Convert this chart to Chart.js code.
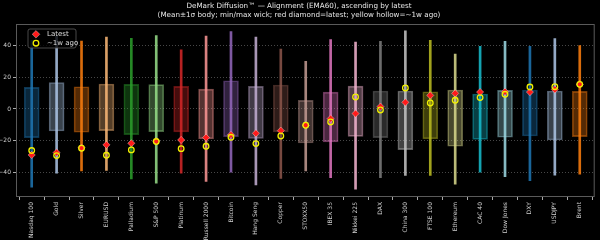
<!DOCTYPE html>
<html>
<head>
<meta charset="utf-8">
<script src="https://cdn.jsdelivr.net/npm/chart.js@4.4.1/dist/chart.umd.min.js"></script>
<style>
  html, body { margin: 0; padding: 0; background: #000; }
  #wrap { width: 600px; height: 240px; }
</style>
</head>
<body>
<div id="wrap"><canvas id="myChart"></canvas></div>
<script>
const categories = ["Nasdaq 100", "Gold", "Silver", "EURUSD", "Palladium", "S&P 500", "Platinum",
  "Russell 2000", "Bitcoin", "Hang Seng", "Copper", "STOXX50", "IBEX 35", "Nikkei 225", "DAX",
  "China 300", "FTSE 100", "Ethereum", "CAC 40", "Dow Jones", "DXY", "USDJPY", "Brent"];

// mean ± 1 sigma body
const bodyHigh = [13.7, 16.8, 14.1, 15.8, 15.6, 15.4, 14.3, 12.6, 17.9, 14.3, 15.2, 5.5,
  10.7, 14.5, 11.4, 11.4, 10.9, 12.0, 9.5, 11.8, 12.0, 11.4, 11.2];
const bodyLow = [-18.1, -13.9, -14.7, -13.7, -16.2, -14.3, -14.5, -18.9, -17.5, -18.7, -14.5, -21.5,
  -20.8, -17.3, -18.1, -25.7, -18.9, -23.6, -19.2, -17.9, -17.1, -19.6, -17.5];
// min / max wick
const wickHigh = [43.5, 46.0, 43.0, 45.5, 44.7, 46.5, 37.5, 46.2, 49.0, 45.5, 38.0, 30.1,
  44.0, 42.3, 42.8, 49.4, 43.4, 34.8, 39.7, 42.8, 39.7, 44.5, 40.2];
const wickLow = [-49.5, -40.6, -39.2, -38.9, -44.2, -46.9, -40.6, -45.9, -40.0, -48.0, -44.0, -39.2,
  -43.4, -50.7, -43.4, -42.1, -42.1, -47.6, -40.0, -42.9, -45.3, -41.9, -41.3];
const latest = [-29.1, -27.6, -24.5, -22.7, -21.7, -20.3, -19.6, -18.1, -16.4, -15.4, -13.7, -10.3,
  -6.1, -2.9, 1.5, 4.2, 8.6, 9.9, 10.7, 10.9, 10.7, 12.4, 15.6];
const weekAgo = [-26.3, -29.5, -24.8, -29.3, -25.9, -20.6, -25.1, -23.6, -17.9, -21.9, -17.1, -10.3,
  -8.2, 7.6, -0.6, 13.3, 3.8, 5.5, 7.2, 9.3, 13.9, 14.1, 15.6];
const yTicks = [-40, -20, 0, 20, 40];

const tab20 = ["#1f77b4", "#aec7e8", "#ff7f0e", "#ffbb78", "#2ca02c", "#98df8a", "#d62728",
  "#ff9896", "#9467bd", "#c5b0d5", "#8c564b", "#c49c94", "#e377c2", "#f7b6d2", "#7f7f7f",
  "#c7c7c7", "#bcbd22", "#dbdb8d", "#17becf", "#9edae5"];

function rgba(hex, a) {
  const n = parseInt(hex.slice(1), 16);
  return `rgba(${(n >> 16) & 255}, ${(n >> 8) & 255}, ${n & 255}, ${a})`;
}
const colors = categories.map((c, i) => tab20[i % tab20.length]);
const FONT = "DejaVu Sans";

// frame around the plot + legend box (matplotlib style)
const frameAndLegend = {
  id: "frameAndLegend",
  afterDatasetsDraw(chart) {
    const { ctx, chartArea: a } = chart;
    ctx.save();
    ctx.strokeStyle = "#5a5a5a";
    ctx.lineWidth = 1;
    ctx.strokeRect(a.left + 0.5, a.top + 0.5, a.right - a.left - 1, a.bottom - a.top - 1);

    // legend
    const x = a.left + 12, y = a.top + 5, w = 48, h = 19;
    ctx.fillStyle = "rgba(0, 0, 0, 0.8)";
    ctx.strokeStyle = "rgba(90, 90, 90, 0.8)";
    ctx.beginPath();
    ctx.roundRect(x, y, w, h, 2);
    ctx.fill();
    ctx.stroke();

    const cx = x + 8, cy = y + 5.3, d = 3.8;
    ctx.fillStyle = "#ff1a1a";
    ctx.strokeStyle = "rgba(255,255,255,0.5)";
    ctx.lineWidth = 0.7;
    ctx.beginPath();
    ctx.moveTo(cx, cy - d); ctx.lineTo(cx + d, cy); ctx.lineTo(cx, cy + d); ctx.lineTo(cx - d, cy);
    ctx.closePath(); ctx.fill(); ctx.stroke();

    ctx.strokeStyle = "#f0f000";
    ctx.lineWidth = 1.3;
    ctx.beginPath();
    ctx.arc(cx, y + 14.2, 2.8, 0, Math.PI * 2);
    ctx.stroke();

    ctx.fillStyle = "#dddddd";
    ctx.font = `7px "${FONT}"`;
    ctx.textBaseline = "middle";
    ctx.fillText("Latest", x + 19, cy);
    ctx.fillText("~1w ago", x + 19, y + 14.2);
    ctx.restore();
  }
};

const ctx = document.getElementById("myChart").getContext("2d");

const myChart = new Chart(ctx, {
  type: "bar",
  data: {
    datasets: [
      {
        label: "~1w ago",
        type: "scatter",
        data: weekAgo.map((v, i) => ({ x: i, y: v })),
        pointStyle: "circle",
        pointRadius: 2.8,
        backgroundColor: "rgba(0,0,0,0)",
        borderColor: "#f0f000",
        pointBorderWidth: 1.3,
        order: 0,
      },
      {
        label: "Latest",
        type: "scatter",
        data: latest.map((v, i) => ({ x: i, y: v })),
        pointStyle: "rectRot",
        pointRadius: 3.6,
        backgroundColor: "#ff1a1a",
        borderColor: "rgba(255,255,255,0.5)",
        pointBorderWidth: 0.7,
        order: 1,
      },
      {
        label: "wick",
        data: wickHigh.map((v, i) => ({ x: i, y: [wickLow[i], v] })),
        backgroundColor: colors.map((c) => rgba(c, 0.85)),
        borderWidth: 0,
        barThickness: 2,
        grouped: false,
        order: 2,
      },
      {
        label: "body",
        data: bodyHigh.map((v, i) => ({ x: i, y: [bodyLow[i], v] })),
        backgroundColor: colors.map((c) => rgba(c, 0.33)),
        borderColor: colors.map((c) => rgba(c, 0.45)),
        borderWidth: 1,
        borderSkipped: false,
        barThickness: 15,
        grouped: false,
        order: 3,
      },
    ],
  },
  options: {
    responsive: true,
    maintainAspectRatio: false,
    animation: false,
    layout: { padding: { left: 0, right: 2, top: 0, bottom: 0 } },
    scales: {
      x: {
        type: "linear",
        min: -0.63,
        max: 22.6,
        offset: false,
        afterBuildTicks: (scale) => {
          scale.ticks = categories.map((c, i) => ({ value: i }));
        },
        afterFit: (scale) => { scale.height = 43; },
        grid: { drawOnChartArea: false, drawTicks: true, tickLength: 3, color: "#aaaaaa" },
        border: { display: false },
        ticks: {
          autoSkip: false,
          minRotation: 90,
          maxRotation: 90,
          padding: 2,
          color: "#d0d0d0",
          font: { family: FONT, size: 6 },
          callback: (v) => categories[v],
        },
      },
      y: {
        min: -55.7,
        max: 53.8,
        afterBuildTicks: (scale) => {
          scale.ticks = yTicks.map((v) => ({ value: v }));
        },
        afterFit: (scale) => { scale.width = 16; },
        grid: {
          color: "rgba(255,255,255,0.28)",
          tickColor: "#aaaaaa",
          tickLength: 3,
          tickBorderDash: [],
        },
        border: { display: false, dash: [1, 2] },
        ticks: {
          padding: 2,
          color: "#d0d0d0",
          font: { family: FONT, size: 6 },
          callback: (v) => (v < 0 ? "\u2212" + Math.abs(v) : String(v)),
        },
      },
    },
    plugins: {
      title: {
        display: true,
        text: [
          "DeMark Diffusion\u2122 \u2014 Alignment (EMA60), ascending by latest",
          "(Mean\u00b11\u03c3 body; min/max wick; red diamond=latest; yellow hollow=~1w ago)",
        ],
        color: "#e6e6e6",
        font: { family: FONT, size: 7.2, weight: "normal", lineHeight: 1.25 },
        padding: { top: 2, bottom: 4 },
      },
      legend: { display: false },
      tooltip: { enabled: false },
    },
  },
  plugins: [frameAndLegend],
});
</script>
</body>
</html>
